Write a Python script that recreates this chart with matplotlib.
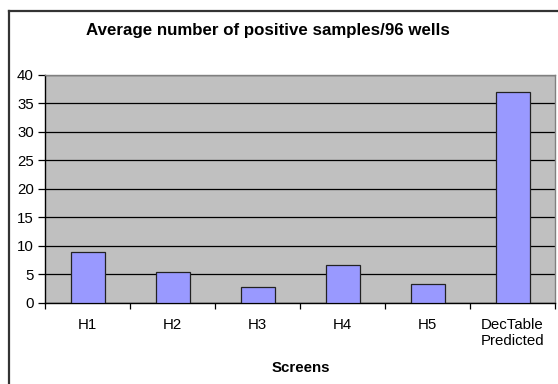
import matplotlib
matplotlib.use("Agg")
import matplotlib.pyplot as plt
from matplotlib.lines import Line2D
import numpy as np

categories = ["H1", "H2", "H3", "H4", "H5", "DecTable\nPredicted"]
values = [9.0, 5.4, 2.8, 6.6, 3.4, 37.0]
yticks = [0, 5, 10, 15, 20, 25, 30, 35, 40]

plt.rcParams['font.family'] = ['Liberation Sans', 'DejaVu Sans']

W, H = 558, 384
fig = plt.figure(figsize=(W / 100, H / 100), dpi=100)
fig.patch.set_facecolor('white')

# outer chart frame (only top and left edges visible)
fig.add_artist(Line2D([8.5 / W, 8.5 / W], [0, 1 - 10.5 / H], transform=fig.transFigure,
                      color='#333333', lw=1.6))
fig.add_artist(Line2D([8.5 / W, 1.0], [1 - 10.5 / H, 1 - 10.5 / H], transform=fig.transFigure,
                      color='#333333', lw=1.6))

left, right, top, bottom = 45 / W, 555 / W, 1 - 74.5 / H, 1 - 303 / H
ax = fig.add_axes([left, bottom, right - left, top - bottom])
ax.set_facecolor('#C0C0C0')

x = np.arange(len(categories))
ax.bar(x, values, width=0.4, color='#9999FF', edgecolor='#222222', linewidth=0.9, zorder=3)

ax.set_xlim(-0.5, len(categories) - 0.5)
ax.set_ylim(0, 40)
ax.set_yticks(yticks)
ax.yaxis.grid(True, color='black', linewidth=0.9, zorder=1)
ax.set_axisbelow(True)

ax.set_xticks(x)
ax.set_xticklabels(categories, fontsize=10.8, linespacing=1.15)
ax.set_xticks(np.arange(len(categories) + 1) - 0.5, minor=True)
ax.tick_params(axis='x', which='major', length=0, pad=11)
ax.tick_params(axis='x', which='minor', length=4, width=0.9, color='black', direction='out')
ax.tick_params(axis='y', length=5, width=0.9, color='black', labelsize=10.8, pad=3)

for s in ['top', 'right']:
    ax.spines[s].set_color('#808080')
    ax.spines[s].set_linewidth(1.0)
for s in ['left', 'bottom']:
    ax.spines[s].set_color('black')
    ax.spines[s].set_linewidth(1.0)

fig.text(267.5 / W, 1 - 30 / H, "Average number of positive samples/96 wells",
         ha='center', va='center', fontsize=12.2, fontweight='bold')
fig.text(300.5 / W, 1 - 368 / H, "Screens",
         ha='center', va='center', fontsize=10.8, fontweight='bold')

fig.savefig("out.png", dpi=100)
